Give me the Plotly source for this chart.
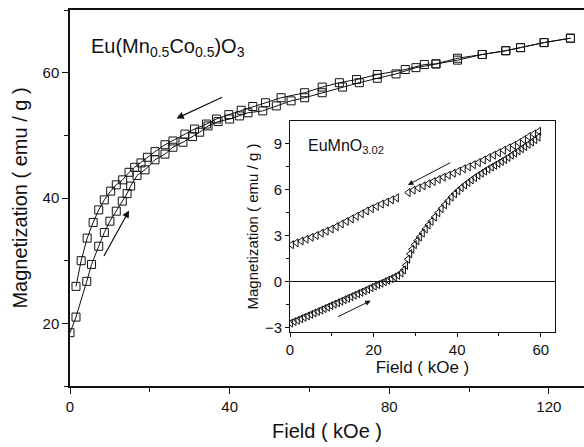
import plotly.graph_objects as go

# ---------------- main panel data: Eu(Mn0.5Co0.5)O3 ----------------
main_up_x = [0, 1.5, 4.2, 5.4, 7.2, 8.6, 10.0, 11.6, 13.1, 14.3, 15.2, 16.8, 18.8, 21.3,
             23.8, 25.8, 28.3, 30.7, 32.5, 34.6, 37.1, 40.0, 42.5, 44.6, 48.3, 51.7, 55.4,
             58.8, 63.2, 68.3, 72.5, 77.0, 81.7, 86.7, 91.7, 97.1, 103.3, 109.2, 112.9,
             118.8, 125.4]
main_up_y = [18.5, 21.0, 26.7, 29.4, 32.3, 34.5, 36.3, 37.9, 39.5, 40.7, 41.9, 43.6, 44.5,
             46.1, 47.0, 48.1, 48.9, 49.8, 50.5, 51.5, 52.2, 52.6, 53.1, 53.6, 53.9, 54.7,
             55.5, 56.0, 56.8, 57.7, 58.4, 59.1, 59.8, 60.8, 61.4, 62.0, 62.9, 63.5, 64.0,
             64.8, 65.5]

main_down_x = [125.4, 118.8, 112.9, 109.2, 103.3, 97.1, 91.7, 88.8, 84.0, 77.0, 71.8, 67.5,
               63.2, 58.8, 52.9, 49.0, 45.8, 42.9, 39.8, 36.7, 34.2, 31.2, 28.8, 25.8, 23.8,
               21.3, 19.4, 17.8, 16.2, 14.8, 13.2, 11.6, 10.2, 8.6, 7.2, 5.8, 4.3, 2.8, 1.5]
main_down_y = [65.5, 64.8, 64.0, 63.5, 62.9, 62.3, 61.4, 61.3, 60.5, 59.7, 58.9, 58.4,
               57.7, 56.8, 56.0, 55.2, 54.6, 54.0, 53.3, 52.6, 51.8, 51.0, 50.2, 49.1, 48.5,
               47.4, 46.5, 45.6, 44.9, 44.1, 42.9, 42.1, 41.1, 39.7, 38.1, 36.1, 33.6, 30.0,
               25.9]

# ---------------- inset data: EuMnO3.02 ----------------
ins_down_x = [59.5, 58.3, 57.1, 55.9, 54.7, 53.5, 52.3, 51.1, 49.9, 48.7, 47.5, 46.3, 45.1,
              43.9, 42.7, 41.5, 40.3, 39.1, 37.9, 36.7, 35.5, 34.3, 33.1, 31.9, 30.7, 29.5,
              28.3, 25.5, 24.3, 23.1, 21.9, 20.7, 19.5, 18.3, 17.1, 15.9, 14.7, 13.5, 12.3,
              11.1, 9.9, 8.7, 7.5, 6.3, 5.1, 3.9, 2.7, 1.5, 0.4]
ins_down_y = [9.80, 9.62, 9.45, 9.25, 9.05, 8.88, 8.72, 8.56, 8.40, 8.24, 8.08, 7.92, 7.76,
              7.62, 7.48, 7.35, 7.20, 7.06, 6.93, 6.80, 6.66, 6.52, 6.38, 6.24, 6.10, 5.96,
              5.80, 5.45, 5.32, 5.18, 5.05, 4.90, 4.75, 4.60, 4.42, 4.25, 4.08, 3.92, 3.75,
              3.58, 3.42, 3.28, 3.15, 3.00, 2.88, 2.76, 2.64, 2.52, 2.40]

ins_up_x = [0.2, 1.0, 1.8, 2.6, 3.4, 4.2, 5.0, 5.8, 6.6, 7.4, 8.2, 9.0, 9.8, 10.6, 11.4,
            12.2, 13.0, 13.8, 14.6, 15.4, 16.2, 17.0, 17.8, 18.6, 19.4, 20.2, 21.0, 21.8,
            22.6, 23.4, 24.2, 25.0, 25.8, 26.6, 27.2, 27.7, 28.2, 28.7, 29.2, 29.8, 30.4,
            31.0, 31.7, 32.4, 33.1, 33.8, 34.6, 35.4, 36.2, 37.0, 37.8, 38.6, 39.4, 40.2,
            41.0, 41.8, 42.6, 43.4, 44.2, 45.0, 45.8, 46.6, 47.4, 48.2, 49.0, 49.8, 50.6,
            51.4, 52.2, 53.0, 53.8, 54.6, 55.4, 56.2, 57.0, 57.8, 58.6, 59.4]
ins_up_y = [-2.72, -2.62, -2.53, -2.43, -2.34, -2.25, -2.15, -2.06, -1.96, -1.87, -1.77,
            -1.68, -1.58, -1.48, -1.39, -1.29, -1.19, -1.10, -1.00, -0.90, -0.80, -0.71,
            -0.61, -0.51, -0.41, -0.31, -0.21, -0.12, -0.02, 0.08, 0.18, 0.29, 0.40, 0.55,
            0.75, 1.05, 1.45, 1.80, 2.10, 2.40, 2.65, 2.90, 3.15, 3.42, 3.68, 3.92, 4.20,
            4.48, 4.75, 5.00, 5.25, 5.50, 5.72, 5.92, 6.12, 6.30, 6.46, 6.62, 6.78, 6.92,
            7.06, 7.20, 7.33, 7.46, 7.58, 7.70, 7.83, 7.96, 8.10, 8.24, 8.38, 8.52, 8.66,
            8.80, 8.95, 9.10, 9.25, 9.42]

# arrows: (tail_x, tail_y, head_x, head_y)
main_arrows = [(38.5, 56.2, 26.7, 52.7), (8.3, 30.5, 14.8, 38.0)]
inset_arrows = [(38.7, 7.8, 28.2, 6.3), (11.1, -2.35, 19.3, -1.26)]

FONT = "Arial, Liberation Sans, Helvetica, sans-serif"
BLACK = "#111111"

fig = go.Figure()

sq = dict(symbol="square-open", size=8, color=BLACK, line=dict(width=1, color=BLACK))
fig.add_trace(go.Scatter(x=main_up_x, y=main_up_y, mode="lines+markers",
                         line=dict(color=BLACK, width=1), marker=sq, showlegend=False))
fig.add_trace(go.Scatter(x=main_down_x, y=main_down_y, mode="lines+markers",
                         line=dict(color=BLACK, width=1), marker=sq, showlegend=False))

tri = dict(symbol="triangle-left-open", size=7, color=BLACK, line=dict(width=1, color=BLACK))
fig.add_trace(go.Scatter(x=ins_down_x, y=ins_down_y, mode="markers", marker=tri,
                         xaxis="x2", yaxis="y2", showlegend=False))
fig.add_trace(go.Scatter(x=ins_up_x, y=ins_up_y, mode="markers", marker=tri,
                         xaxis="x2", yaxis="y2", showlegend=False))

annotations = []
for tx, ty, hx, hy in main_arrows:
    annotations.append(dict(x=hx, y=hy, ax=tx, ay=ty, xref="x", yref="y", axref="x", ayref="y",
                            text="", showarrow=True, arrowhead=2, arrowsize=1.2,
                            arrowwidth=1.2, arrowcolor=BLACK))
for tx, ty, hx, hy in inset_arrows:
    annotations.append(dict(x=hx, y=hy, ax=tx, ay=ty, xref="x2", yref="y2", axref="x2", ayref="y2",
                            text="", showarrow=True, arrowhead=2, arrowsize=1.1,
                            arrowwidth=1, arrowcolor=BLACK))

annotations.append(dict(text="Eu(Mn<sub>0.5</sub>Co<sub>0.5</sub>)O<sub>3</sub>",
                        xref="paper", yref="paper", x=(89 - 70) / 514, y=(386 - 47) / 376,
                        xanchor="left", yanchor="middle", showarrow=False,
                        font=dict(family=FONT, size=20, color=BLACK)))
annotations.append(dict(text="EuMnO<sub>3.02</sub>",
                        xref="paper", yref="paper", x=(306 - 70) / 514, y=(386 - 146) / 376,
                        xanchor="left", yanchor="middle", showarrow=False,
                        font=dict(family=FONT, size=16, color=BLACK)))

fig.update_layout(
    width=584, height=447,
    margin=dict(l=70, r=0, t=10, b=61),
    paper_bgcolor="white", plot_bgcolor="white",
    font=dict(family=FONT, color=BLACK),
    annotations=annotations,
    xaxis=dict(range=[0, 128.8], domain=[0, 1], showline=True, linecolor=BLACK, linewidth=1.5,
               mirror=True, ticks="outside", ticklen=6, tickwidth=1.2, tickcolor=BLACK,
               dtick=40, tick0=0, showgrid=False, zeroline=False,
               minor=dict(dtick=20, tick0=0, ticks="outside", ticklen=4, tickcolor=BLACK),
               tickfont=dict(size=15, family=FONT),
               title=dict(text="Field ( kOe )", font=dict(size=20, family=FONT), standoff=10)),
    yaxis=dict(range=[10, 70], domain=[0, 1], showline=True, linecolor=BLACK, linewidth=1.5,
               ticks="outside", ticklen=6, tickwidth=1.2, tickcolor=BLACK,
               dtick=20, tick0=0, showgrid=False, zeroline=False,
               minor=dict(dtick=10, tick0=0, ticks="outside", ticklen=4, tickcolor=BLACK),
               tickfont=dict(size=15, family=FONT),
               title=dict(text="Magnetization ( emu / g )", font=dict(size=20, family=FONT),
                          standoff=10)),
    xaxis2=dict(range=[0, 63.4], domain=[(290 - 70) / 514, (555 - 70) / 514], anchor="y2",
                showline=True, linecolor=BLACK, linewidth=1, mirror=True,
                ticks="outside", ticklen=4, tickcolor=BLACK, dtick=20, tick0=0,
                minor=dict(dtick=10, tick0=0, ticks="outside", ticklen=3, tickcolor=BLACK),
                showgrid=False, zeroline=False, tickfont=dict(size=15, family=FONT),
                title=dict(text="Field ( kOe )", font=dict(size=17, family=FONT), standoff=2)),
    yaxis2=dict(range=[-3.3, 10.47], domain=[(386 - 332) / 376, (386 - 121) / 376], anchor="x2",
                showline=True, linecolor=BLACK, linewidth=1, mirror=True,
                ticks="outside", ticklen=4, tickcolor=BLACK, dtick=3, tick0=0,
                minor=dict(dtick=1.5, tick0=0, ticks="outside", ticklen=3, tickcolor=BLACK),
                showgrid=False, zeroline=True, zerolinecolor=BLACK, zerolinewidth=1,
                tickfont=dict(size=15, family=FONT),
                title=dict(text="Magnetization ( emu / g )", font=dict(size=15, family=FONT),
                           standoff=2)),
)

fig.write_html("out.html")
